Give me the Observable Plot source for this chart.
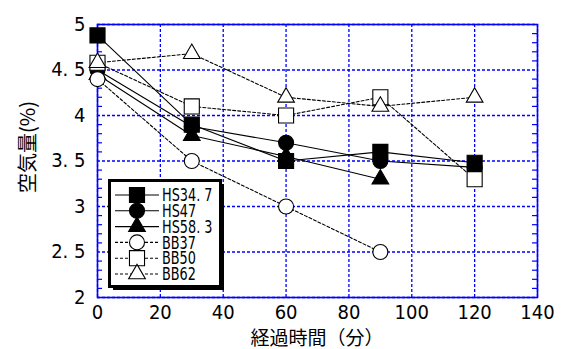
<!DOCTYPE html>
<html><head><meta charset="utf-8">
<script src="https://cdn.jsdelivr.net/npm/d3@7"></script>
<script src="https://cdn.jsdelivr.net/npm/@observablehq/plot@0.6"></script>
<style>body{margin:0;background:#fff;} svg{display:block}</style>
</head><body><div id="chart"></div>
<script>
// ---- data ----
const times = [0, 30, 60, 90, 120];
const seriesNames = ["HS34. 7", "HS47", "HS58. 3", "BB37", "BB50", "BB62"];
const hs347 = [4.88, 3.90, 3.50, 3.60, 3.48];
const hs47  = [4.50, 3.88, 3.70, 3.50, 3.43];
const hs583 = [4.45, 3.78, 3.55, 3.30, null];
const bb37  = [4.40, 3.50, 3.00, 2.50, null];
const bb50  = [4.58, 4.10, 4.00, 4.20, 3.30];
const bb62  = [4.58, 4.68, 4.20, 4.10, 4.20];
const xTicks = [0, 20, 40, 60, 80, 100, 120, 140];
const yTicks = [2, 2.5, 3, 3.5, 4, 4.5, 5];
const yTickLabels = ["2", "2. 5", "3", "3. 5", "4", "4. 5", "5"];
const yMinorTicks = [2.1,2.2,2.3,2.4,2.6,2.7,2.8,2.9,3.1,3.2,3.3,3.4,3.6,3.7,3.8,3.9,4.1,4.2,4.3,4.4,4.6,4.7,4.8,4.9];
const xLabel = "経過時間（分）";
const yLabel = "空気量(%)";

// ---- styles ----
const BLUE = "#0000ff";
const styles = [
  {symbol: "square",   r: 8.5, fill: "black", dash: null},
  {symbol: "circle",   r: 7.5, fill: "black", dash: null},
  {symbol: "triangle", r: 6.2, fill: "black", dash: null},
  {symbol: "circle",   r: 7.5, fill: "white", dash: "3,2"},
  {symbol: "square",   r: 8.5, fill: "white", dash: "3,2"},
  {symbol: "triangle", r: 6.2, fill: "white", dash: "3,2"}
];
const allValues = [hs347, hs47, hs583, bb37, bb50, bb62];
const rows = allValues.map(vals => times.map((t, i) => ({t, v: vals[i]})).filter(d => d.v != null));
const drawOrder = [1, 2, 3, 4, 5, 0];

const lineMarks = drawOrder.map(i => Plot.line(rows[i], {x: "t", y: "v", stroke: "black", strokeWidth: 1.1, strokeDasharray: styles[i].dash}));
const dotMarks = drawOrder.map(i => Plot.dot(rows[i], {x: "t", y: "v", symbol: styles[i].symbol, r: styles[i].r, fill: styles[i].fill, stroke: "black", strokeWidth: 1.1}));

const numFont = "'Liberation Sans Narrow','DejaVu Sans Condensed','Noto Sans CJK JP',sans-serif";
const W = 562, H = 349, ML = 97, MR = 25, MT = 24, MB = 52;
const innerW = W - ML - MR;

const plot = Plot.plot({
  width: W, height: H,
  marginLeft: ML, marginRight: MR, marginTop: MT, marginBottom: MB,
  style: {fontFamily: numFont, fontSize: "20px", background: "white", color: "black"},
  x: {domain: [0, 140]},
  y: {domain: [2, 5]},
  marks: [
    Plot.gridX(xTicks, {stroke: BLUE, strokeOpacity: 1, strokeWidth: 1.3, strokeDasharray: "3,2"}),
    Plot.gridY(yTicks, {stroke: BLUE, strokeOpacity: 1, strokeWidth: 1.3, strokeDasharray: "3,2"}),
    Plot.tickY(yMinorTicks, {stroke: BLUE, strokeWidth: 1.2, insetRight: innerW - 5}),
    Plot.tickY(yMinorTicks, {stroke: BLUE, strokeWidth: 1.2, insetLeft: innerW - 5}),
    Plot.frame({stroke: BLUE, strokeWidth: 1.6}),
    Plot.axisX(xTicks, {tickSize: 0, tickPadding: 7, label: null, fontSize: 20}),
    Plot.axisY(yTicks, {tickSize: 0, tickPadding: 12, label: null, fontSize: 20, tickFormat: d => yTickLabels[yTicks.indexOf(d)]}),
    ...lineMarks,
    ...dotMarks
  ]
});
document.getElementById("chart").appendChild(plot);

// ---- axis titles & legend ----
const svg = d3.select(plot);
svg.append("text").attr("x", ML + innerW / 2).attr("y", 345)
  .attr("text-anchor", "middle").attr("font-family", "'Noto Sans CJK JP',sans-serif")
  .attr("font-size", 19).attr("fill", "black").text(xLabel);
svg.append("text").attr("transform", "translate(28,147) rotate(-90)")
  .attr("text-anchor", "middle").attr("dy", "0.35em").attr("font-family", "'Noto Sans CJK JP',sans-serif")
  .attr("font-size", 20).attr("fill", "black").text(yLabel);

const lg = svg.append("g");
lg.append("rect").attr("x", 113).attr("y", 184).attr("width", 111).attr("height", 106).attr("fill", "black");
lg.append("rect").attr("x", 109.5).attr("y", 180.5).attr("width", 111).attr("height", 106)
  .attr("fill", "white").attr("stroke", "black").attr("stroke-width", 3);
const symbolTypes = {square: d3.symbolSquare, circle: d3.symbolCircle, triangle: d3.symbolTriangle};
seriesNames.forEach((name, i) => {
  const cy = 195 + i * 15.8;
  const s = styles[i];
  lg.append("line").attr("x1", 115).attr("x2", 159).attr("y1", cy).attr("y2", cy)
    .attr("stroke", "black").attr("stroke-width", 1.1).attr("stroke-dasharray", s.dash);
  lg.append("path").attr("transform", `translate(137,${cy})`)
    .attr("d", d3.symbol(symbolTypes[s.symbol], s.r * s.r * Math.PI)())
    .attr("fill", s.fill).attr("stroke", "black").attr("stroke-width", 1.1);
  lg.append("text").attr("transform", `translate(162,${cy}) scale(0.84,1)`).attr("dy", "0.36em").attr("text-anchor", "start")
    .attr("font-family", numFont).attr("font-size", 17).attr("fill", "black").text(name);
});
</script>
</body></html>
